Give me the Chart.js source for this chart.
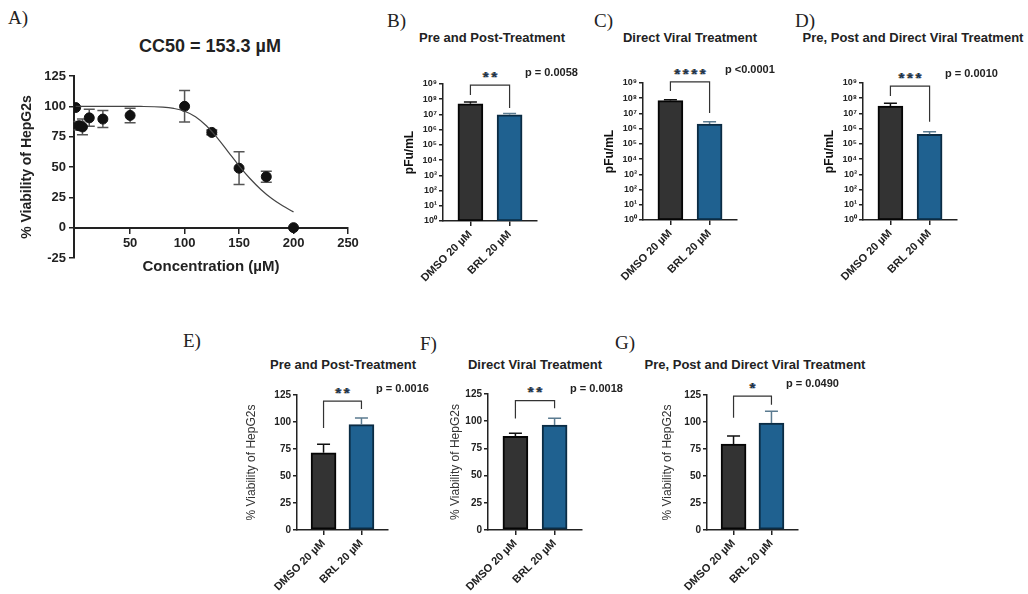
<!DOCTYPE html>
<html>
<head>
<meta charset="utf-8">
<script src="https://cdn.jsdelivr.net/npm/chart.js@4.4.1/dist/chart.umd.min.js"></script>
<style>
  body { margin: 0; width: 1028px; height: 594px; background: #fff; position: relative; overflow: hidden; font-family: "Liberation Sans", Arial, sans-serif; }
  canvas { position: absolute; }
  .lbl { position: absolute; font-family: "Liberation Serif", "Times New Roman", serif; font-size: 19px; color: #222; line-height: 1; transform: translateY(-50%); }
  .ttl { position: absolute; font-weight: bold; font-size: 13px; color: #222; white-space: nowrap; line-height: 1; transform: translate(-50%, -50%); }
</style>
</head>
<body>
<div class="lbl" style="left:8px;top:17px">A)</div>
<div class="lbl" style="left:387px;top:20px">B)</div>
<div class="lbl" style="left:594px;top:20px">C)</div>
<div class="lbl" style="left:795px;top:20px">D)</div>
<div class="lbl" style="left:183px;top:340px">E)</div>
<div class="lbl" style="left:420px;top:343px">F)</div>
<div class="lbl" style="left:615px;top:342px">G)</div>

<div class="ttl" style="left:210px;top:46px;font-size:18px">CC50 = 153.3 µM</div>
<div class="ttl" style="left:492px;top:37px">Pre and Post-Treatment</div>
<div class="ttl" style="left:690px;top:37px">Direct Viral Treatment</div>
<div class="ttl" style="left:913px;top:37px">Pre, Post and Direct Viral Treatment</div>
<div class="ttl" style="left:343px;top:364px">Pre and Post-Treatment</div>
<div class="ttl" style="left:535px;top:364px">Direct Viral Treatment</div>
<div class="ttl" style="left:755px;top:364px">Pre, Post and Direct Viral Treatment</div>

<canvas id="chartA" width="362" height="290" style="left:0;top:0"></canvas>
<canvas id="chartB"></canvas>
<canvas id="chartC"></canvas>
<canvas id="chartD"></canvas>
<canvas id="chartE"></canvas>
<canvas id="chartF"></canvas>
<canvas id="chartG"></canvas>

<script>
// A) dose response
const concentrations = [0, 3.125, 6.25, 12.5, 25, 50, 100, 125, 150, 175, 200];
const viability = [99, 84, 83, 90.5, 89.5, 92.5, 100, 78.5, 49, 42, 0];
const viabilitySd = [0, 3.5, 6.5, 7, 7, 6, 13, 2, 13.5, 4.5, 0];
const fitConc = [0, 20, 40, 60, 80, 90, 100, 110, 120, 130, 140, 150, 160, 170, 180, 190, 200];
const fitViability = [100, 100, 100, 99.9, 99.3, 98.3, 96, 91.5, 84, 74, 62.5, 51, 40.5, 31.5, 24, 18, 13];
const concTicks = [50, 100, 150, 200, 250];

// B-D) viral titer, E-G) cell viability
const groups = ['DMSO 20 µM', 'BRL 20 µM'];
const logTicks = [1, 10, 100, 1e3, 1e4, 1e5, 1e6, 1e7, 1e8, 1e9];
const logTickLabels = ['10⁰', '10¹', '10²', '10³', '10⁴', '10⁵', '10⁶', '10⁷', '10⁸', '10⁹'];

const titerPrePost = [5.0e7, 9.4e6];
const titerPrePostSd = [1.5e7, 2.0e6];
const titerDirect = [6.9e7, 2.0e6];
const titerDirectSd = [1.0e7, 0.9e6];
const titerAll = [3.1e7, 4.3e5];
const titerAllSd = [1.6e7, 2.0e5];

const viabPrePost = [71.5, 97.5];
const viabPrePostSd = [7.8, 6.2];
const viabDirect = [86, 96.5];
const viabDirectSd = [3, 6.2];
const viabAll = [79.5, 99];
const viabAllSd = [7.5, 11];

Chart.defaults.font.family = '"Liberation Sans", Arial, sans-serif';
Chart.defaults.color = '#222';

function errorPlugin(dsIndex, sd, colors, cap, both) {
    return {
        id: 'errorBars',
        beforeDatasetsDraw(chart) { if (both) draw(chart); },
        afterDatasetsDraw(chart) { if (!both) draw(chart); }
    };
    function draw(chart) {
        const ctx = chart.ctx;
        const y = chart.scales.y;
        const data = chart.data.datasets[dsIndex].data;
        ctx.save();
        ctx.lineWidth = 1.5;
        chart.getDatasetMeta(dsIndex).data.forEach((el, i) => {
            if (!sd[i]) return;
            const top = y.getPixelForValue(data[i].y + sd[i]);
            const bot = both ? y.getPixelForValue(data[i].y - sd[i]) : el.y;
            ctx.strokeStyle = colors[i];
            ctx.beginPath();
            ctx.moveTo(el.x, bot);
            ctx.lineTo(el.x, top);
            ctx.moveTo(el.x - cap / 2, top);
            ctx.lineTo(el.x + cap / 2, top);
            if (both) {
                ctx.moveTo(el.x - cap / 2, bot);
                ctx.lineTo(el.x + cap / 2, bot);
            }
            ctx.stroke();
        });
        ctx.restore();
    }
}

function sigPlugin(sig) {
    return {
        id: 'sig',
        afterDatasetsDraw(chart) {
            const ctx = chart.ctx;
            const y = chart.scales.y;
            const meta = chart.getDatasetMeta(0);
            const x0 = meta.data[0].x, x1 = meta.data[1].x;
            const yb = y.getPixelForValue(sig.bar);
            ctx.save();
            ctx.strokeStyle = '#333';
            ctx.lineWidth = 1.2;
            ctx.beginPath();
            ctx.moveTo(x0, y.getPixelForValue(sig.left));
            ctx.lineTo(x0, yb);
            ctx.lineTo(x1, yb);
            ctx.lineTo(x1, y.getPixelForValue(sig.right));
            ctx.stroke();

            // asterisks with the orange / blue fringes of the original
            ctx.font = 'bold 14px "Liberation Sans", Arial, sans-serif';
            ctx.textAlign = 'center';
            ctx.textBaseline = 'middle';
            const n = sig.stars.length, cx = (x0 + x1) / 2, sy = yb - 7;
            for (let k = 0; k < n; k++) {
                const sx = cx + (k - (n - 1) / 2) * 8.5;
                ctx.fillStyle = '#e0902e';
                ctx.fillText('*', sx - 1, sy);
                ctx.fillStyle = '#3f8ad6';
                ctx.fillText('*', sx + 1, sy);
                ctx.fillStyle = '#24324a';
                ctx.fillText('*', sx, sy);
            }
            ctx.font = 'bold 11px "Liberation Sans", Arial, sans-serif';
            ctx.fillStyle = '#222';
            ctx.textAlign = 'left';
            ctx.fillText(sig.p, chart.chartArea.right - 12, yb - 12);
            ctx.restore();
        }
    };
}

// dose response curve
new Chart(document.getElementById('chartA'), {
    type: 'scatter',
    data: {
        datasets: [
            {
                type: 'line',
                data: fitConc.map((x, i) => ({ x: x, y: fitViability[i] })),
                borderColor: '#444',
                borderWidth: 1.2,
                pointRadius: 0,
                fill: false,
                tension: 0.4
            },
            {
                data: concentrations.map((x, i) => ({ x: x, y: viability[i] })),
                backgroundColor: '#111',
                borderColor: '#111',
                pointRadius: 5
            }
        ]
    },
    options: {
        responsive: false,
        animation: false,
        layout: { padding: { left: 10, top: 76, right: 14, bottom: 32 } },
        plugins: { legend: { display: false }, tooltip: { enabled: false } },
        scales: {
            x: {
                type: 'linear', min: -1.5, max: 250,
                position: { y: 0 },
                afterBuildTicks: s => { s.ticks = concTicks.map(v => ({ value: v })); },
                ticks: { font: { size: 13, weight: 'bold' }, padding: 3 },
                grid: { drawOnChartArea: false, tickLength: 5, color: '#222', lineWidth: 1.5 },
                border: { color: '#222', width: 2 },
                title: { display: true, text: 'Concentration (µM)', font: { size: 15, weight: 'bold' }, padding: 0 },
                afterFit: s => { s.height = 48; }
            },
            y: {
                min: -25, max: 125,
                ticks: { stepSize: 25, font: { size: 13, weight: 'bold' }, padding: 3 },
                grid: { drawOnChartArea: false, tickLength: 5, color: '#222', lineWidth: 1.5 },
                border: { color: '#222', width: 2 },
                title: { display: true, text: '% Viability of HepG2s', font: { size: 14, weight: 'bold' }, padding: { top: 8.6, bottom: 0 } },
                afterFit: s => { s.width = 64; }
            }
        }
    },
    plugins: [errorPlugin(1, viabilitySd, viabilitySd.map(() => '#555'), 11, true)]
});

function barPanel(id, area, values, sd, yAxis, titleGap, sig) {
    const canvas = document.getElementById(id);
    canvas.width = area[2] - area[0] + 170;
    canvas.height = area[3] - area[1] + 160;
    canvas.style.left = (area[0] - 70) + 'px';
    canvas.style.top = (area[1] - 80) + 'px';
    yAxis.title.padding = { top: 70 - titleGap - 4 - yAxis.title.font.size * 0.6, bottom: 0 };

    new Chart(canvas, {
        type: 'bar',
        data: {
            datasets: [{
                data: values.map((v, i) => ({ x: i + 1, y: v })),
                backgroundColor: ['#333333', '#1f6190'],
                borderColor: ['#050505', '#0b2c44'],
                borderWidth: 2,
                borderSkipped: false,
                barThickness: 25
            }]
        },
        options: {
            responsive: false,
            animation: false,
            layout: { padding: { left: 4, top: 80, right: 100, bottom: 10 } },
            plugins: { legend: { display: false }, tooltip: { enabled: false } },
            scales: {
                x: {
                    type: 'linear', min: 0.3, max: 2.7, offset: false,
                    afterBuildTicks: s => { s.ticks = groups.map((g, i) => ({ value: i + 1 })); },
                    ticks: { callback: (v, i) => groups[i], minRotation: 45, maxRotation: 45, autoSkip: false, font: { size: 11, weight: 'bold' }, padding: 2 },
                    grid: { offset: false, drawOnChartArea: false, tickLength: 5, color: '#222', lineWidth: 1.5 },
                    border: { color: '#222', width: 1.5 },
                    afterFit: s => { s.height = 70; }
                },
                y: Object.assign({
                    grid: { drawOnChartArea: false, tickLength: 4, color: '#222', lineWidth: 1.5 },
                    border: { color: '#222', width: 1.5 },
                    afterFit: s => { s.width = 66; }
                }, yAxis)
            }
        },
        plugins: [
            errorPlugin(0, sd, ['#111', '#5b7b90'], 13, false),
            sigPlugin(sig)
        ]
    });
}

function logAxis() {
    return {
        type: 'logarithmic', min: 1, max: 1e9,
        afterBuildTicks: s => { s.ticks = logTicks.map(v => ({ value: v })); },
        ticks: { callback: (v, i) => logTickLabels[i], font: { size: 9, weight: 'bold' }, padding: 2 },
        title: { display: true, text: 'pFu/mL', color: '#111', font: { size: 12, weight: 'bold' } }
    };
}

function pctAxis() {
    return {
        type: 'linear', min: 0, max: 125,
        ticks: { stepSize: 25, font: { size: 10, weight: 'bold' }, padding: 2 },
        title: { display: true, text: '% Viability of HepG2s', color: '#333', font: { size: 12 } }
    };
}

barPanel('chartB', [443, 84, 537, 221], titerPrePost, titerPrePostSd, logAxis(), 33,
    { bar: Math.pow(10, 8.93), left: Math.pow(10, 8.28), right: Math.pow(10, 7.43), stars: '**', p: 'p = 0.0058' });
barPanel('chartC', [643, 83, 737, 220], titerDirect, titerDirectSd, logAxis(), 33,
    { bar: Math.pow(10, 9.07), left: Math.pow(10, 8.47), right: Math.pow(10, 7.03), stars: '****', p: 'p <0.0001' });
barPanel('chartD', [863, 83, 957, 220], titerAll, titerAllSd, logAxis(), 33,
    { bar: Math.pow(10, 8.8), left: Math.pow(10, 8.15), right: Math.pow(10, 6.46), stars: '***', p: 'p = 0.0010' });

barPanel('chartE', [297, 395, 388, 530], viabPrePost, viabPrePostSd, pctAxis(), 45,
    { bar: 119.4, left: 94.4, right: 112, stars: '**', p: 'p = 0.0016' });
barPanel('chartF', [488, 394, 582, 530], viabDirect, viabDirectSd, pctAxis(), 32,
    { bar: 119, left: 102.5, right: 112, stars: '**', p: 'p = 0.0018' });
barPanel('chartG', [707, 395, 798, 530], viabAll, viabAllSd, pctAxis(), 39,
    { bar: 124, left: 104, right: 116, stars: '*', p: 'p = 0.0490' });
</script>
</body>
</html>
